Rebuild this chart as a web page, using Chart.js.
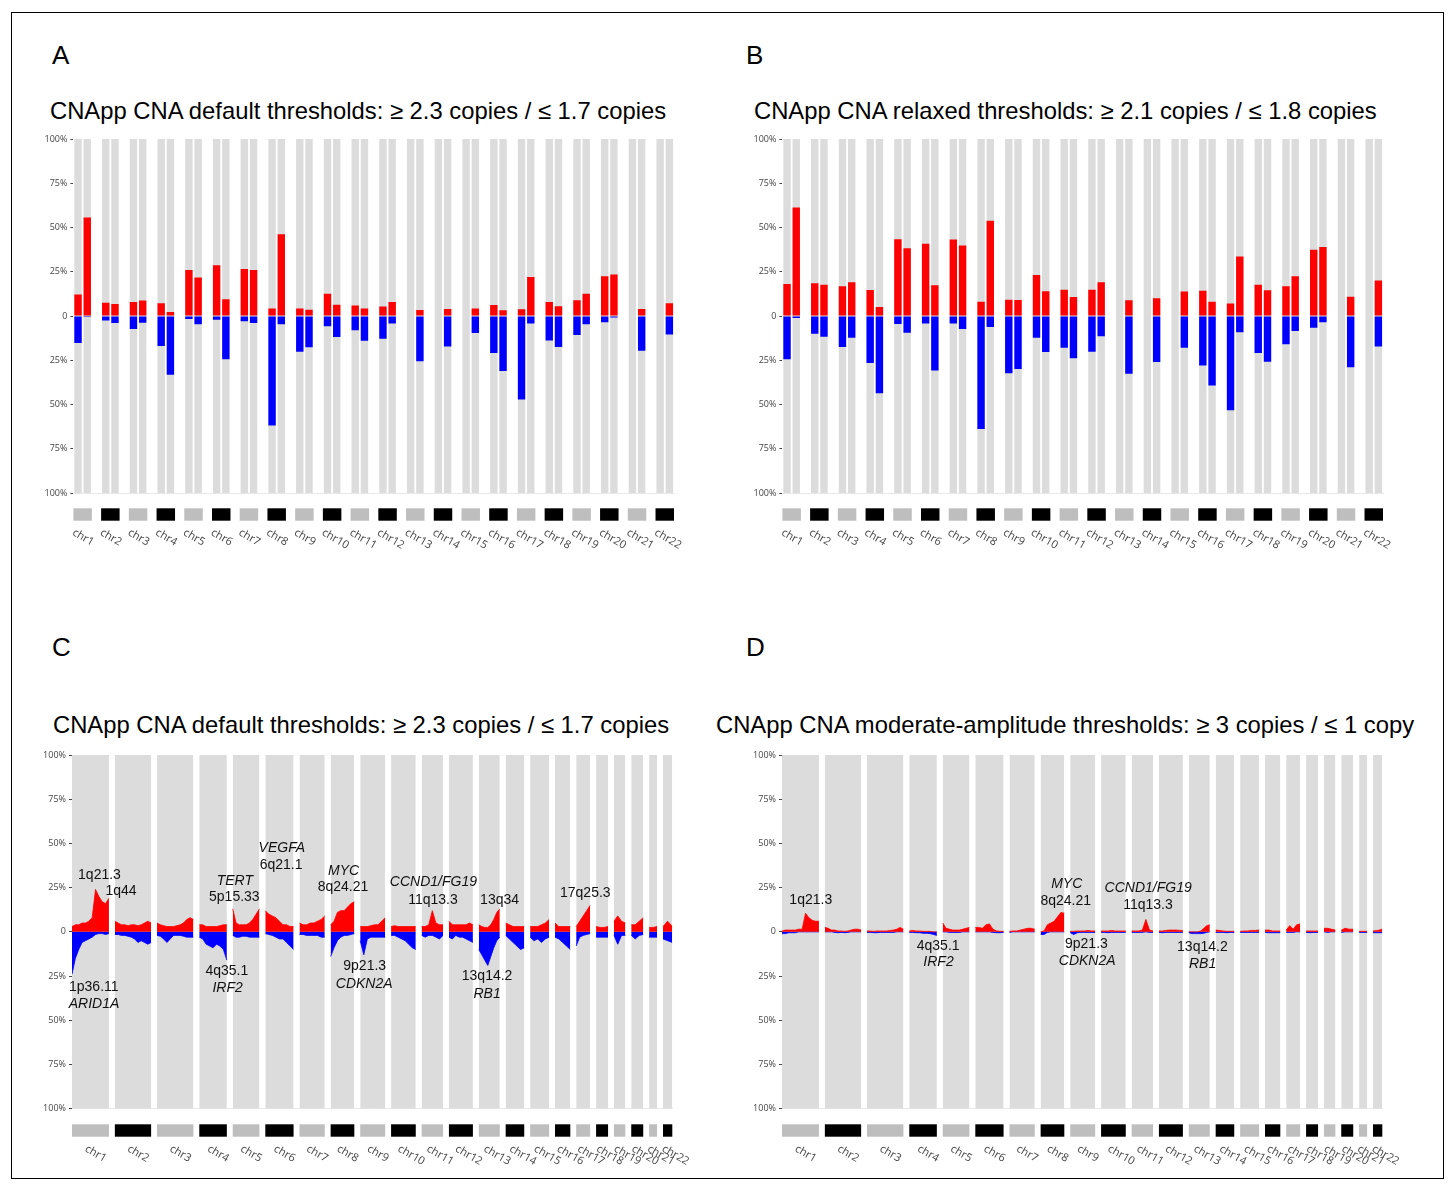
<!DOCTYPE html>
<html><head><meta charset="utf-8">
<script src="https://cdn.jsdelivr.net/npm/chart.js@4.4.1/dist/chart.umd.min.js"></script>
<style>
body{margin:0;background:#fff;width:1448px;height:1186px;position:relative;overflow:hidden;font-family:"Liberation Sans",Arial,sans-serif;}
.frame{position:absolute;left:11px;top:12px;width:1431px;height:1165px;border:1px solid #000;}
.lbl{position:absolute;font-size:26px;line-height:26px;color:#000;}
.ttl{position:absolute;font-size:23.8px;line-height:24px;color:#000;white-space:nowrap;}
canvas{position:absolute;}
</style></head><body>
<div class="frame"></div>
<div class="lbl" style="left:52px;top:42px">A</div>
<div class="lbl" style="left:746px;top:42px">B</div>
<div class="lbl" style="left:52px;top:634px">C</div>
<div class="lbl" style="left:746px;top:634px">D</div>
<div class="ttl" style="left:50px;top:99px">CNApp CNA default thresholds: ≥ 2.3 copies / ≤ 1.7 copies</div>
<div class="ttl" style="left:754px;top:99px">CNApp CNA relaxed thresholds: ≥ 2.1 copies / ≤ 1.8 copies</div>
<div class="ttl" style="left:53px;top:713px">CNApp CNA default thresholds: ≥ 2.3 copies / ≤ 1.7 copies</div>
<div class="ttl" style="left:716px;top:713px">CNApp CNA moderate-amplitude thresholds: ≥ 3 copies / ≤ 1 copy</div>
<canvas id="cA" width="700" height="430" style="left:0px;top:130px;width:700px;height:430px"></canvas>
<canvas id="cB" width="700" height="430" style="left:708.7px;top:130px;width:700px;height:430px"></canvas>
<canvas id="cC" width="700" height="430" style="left:0px;top:745px;width:700px;height:430px"></canvas>
<canvas id="cD" width="700" height="430" style="left:710px;top:745px;width:700px;height:430px"></canvas>
<script>
// ---------- data ----------
const chromosomes = ['chr1','chr2','chr3','chr4','chr5','chr6','chr7','chr8','chr9','chr10','chr11','chr12','chr13','chr14','chr15','chr16','chr17','chr18','chr19','chr20','chr21','chr22'];
const yTicks = [-100,-75,-50,-25,0,25,50,75,100];

// Panel A (% of samples, per arm)
const aGainP = [12.1,7.5,7.9,7.2,26,28.7,26.6,4.3,4.3,12.6,6,5.3,null,null,null,6.2,3.8,7.9,8.9,22.5,null,null];
const aGainQ = [55.7,6.8,8.7,2.3,21.7,9.4,26,46.2,3.6,6.4,4.3,7.9,3.4,4,4.3,3.2,22,5.5,12.6,23.4,4,7.2];
const aLossP = [15.3,2.6,7.4,17,1.7,2.1,3,61.9,20.2,5.8,8.1,12.8,null,null,null,20.9,47.2,13.8,10.8,3.6,null,null];
const aLossQ = [0.5,4,3.8,33.2,4.7,24.5,4,4.7,17.7,11.9,14,4.3,25.5,17.2,9.6,31.1,4.3,17.5,4.7,0.9,19.6,10.4];

// Panel B
const bGainP = [18.1,18.5,16.8,14.7,43.4,40.8,43.2,8.1,9.2,23.2,14.9,14.9,null,null,null,14.3,7,17.7,16.8,37.5,null,null];
const bGainQ = [61.3,17.7,19,5.1,38.3,17.4,39.8,53.8,9.1,14,10.8,19,8.9,10,13.8,8.1,33.6,14.5,22.5,39,10.9,20];
const bLossP = [24.5,10,17.5,26.6,4.5,4.3,4.2,63.8,32.3,12.3,17.9,20.2,null,null,null,27.9,53.2,20.9,16,6.6,null,null];
const bLossQ = [1.1,11.7,12.3,43.6,9.4,30.8,7.4,6.2,30,20.4,23.8,11.5,32.6,26,17.9,39.2,9.2,25.8,8.5,3.6,29,17.2];

// Panels C/D: relative chromosome display sizes and gap (genome axis units)
const chrSize = [370,363,364,276,267,283,253,237,250,247,214,240,210,186,190,153,140,120,114,120,80,93];
const chrGap = 59;

// Panel C profile (% gains / losses, evenly sampled along each chromosome)
const cGain = [
 [3,4,4,5,5,6,8,24,20,17,16,19],
 [6,5,4,4,3.5,4,4,3.5,4,5,6,5],
 [5,4,3.5,3,3,3,3.5,4,5,7,8,7],
 [4,4,3,3,3,3,3.5,4,4],
 [13,5,4,4,4,5,7,10,13],
 [12,10,9,8,6,4,4,3,3],
 [5,4,4,5,5,6,7,9],
 [4,6,11,12,12,14,16,17],
 [3,3,3,3.5,4,4,6,8],
 [3,3.5,3,3,3,3,3,3],
 [3,3,4,12,5,4,4],
 [6,4,4,4,4,4,5,4],
 [4,3,2.5,2.5,4,7,11,13],
 [5,4,3,3,3,3],
 [3,3,3,4,5,7],
 [5,3,3,3,3],
 [3,6,9,12,15],
 [3,2.5,2.5,3],
 [6,9,6,5],
 [4,4,6,8],
 [2.5,2.5,3],
 [3,6,3]
];
const cLoss = [
 [24,15,10,6,5,4,3,1.5,1,1,1.5,1],
 [1.5,1.5,2,2,2.5,3,4,6,5,6,7,6],
 [2,2.5,4,6,4,2,2,2,2.5,3,3,3],
 [3,4,7,8,9,7,8,10,16],
 [2,3,3,2.5,2.5,3,3,3,3],
 [1,1.5,2,3,4,4,6,8,10],
 [1.5,1.5,2,2,2,2,3,3],
 [14,9,5,3,2,2,1.5,1],
 [5,13,4,3,3,3,3,3],
 [2,2,3,4,5,7,9,10],
 [2,3,2,2,3,4,2],
 [3,4,2,3,3,4,5,6],
 [10,13,16,19,14,9,5,3],
 [2,4,6,8,10,9],
 [3,5,4,6,4,3],
 [3,4,6,8,10],
 [8,3,2,1.5,1],
 [3,3,3,3],
 [2,7,2,2],
 [2,4,2,1.5],
 [3,3,3],
 [4,5,6]
];
// Panel D profile
const dGain = [
 [0.5,1,1,1,1,1.5,1.5,10.5,8,6.5,6,6],
 [2.5,2,1,1,0.5,0.5,0.3,0.5,1,1.5,1.5,1],
 [0.5,0.5,0.3,0.5,0.5,0.5,0.5,0.8,1,1.5,2.5,1.5],
 [0.5,0.8,0.5,0.5,0.3,0.3,0.3,0,0],
 [5,2,1.5,1,1,1,1.5,2,2.5],
 [2.5,2.5,2,4,4.5,1.5,0.5,0.3,0.3],
 [0.3,0.5,0.5,1,1.5,2,2,1.5],
 [0,0.5,4,5,6,8.5,11,10.5],
 [0.3,0.3,0.5,0.5,0.5,0.8,0.5,0.5],
 [0.5,0.5,0.5,0.8,0.5,0.5,0.5,0.5],
 [0.5,0.5,0.5,1,7,1,0.5],
 [0.5,0.5,0.8,1,1,1,0.8,0.8],
 [0,0,0,0,0.5,2,3.5,4],
 [1,0.8,0.5,0.3,0.3,0.3],
 [0.3,0.5,0.5,0.8,0.8,1],
 [1,1,0.5,0.5,0.5],
 [1,3.5,1.5,4,4.5],
 [0.5,0.5,0.5,0.5],
 [2,2,1.5,1],
 [1,2,1.5,1.5],
 [0.3,0.3,0.3],
 [0.5,0.8,1.5]
];
const dLoss = [
 [1,1,0.5,0.5,0.5,0,0,0,0,0,0,0],
 [0,0,0,0.3,0.5,0.3,0.5,0.3,0,0,0,0],
 [0.3,0.3,0.5,0.5,0.3,0.3,0.3,0.3,0.3,0,0,0],
 [0.3,0.3,0.5,0.5,0.8,0.8,1,1.5,2],
 [0,0,0.3,0.3,0.3,0.3,0,0,0],
 [0,0,0,0,0,0.3,0.5,0.5,0.3],
 [0.3,0,0,0,0,0,0,0],
 [1.5,1.5,0.3,0,0,0,0,0],
 [0.5,1.5,0.5,0.3,0.3,0.3,0.3,0.3],
 [0.3,0.3,0.5,0.3,0.3,0.3,0.3,0.3],
 [0.3,0.3,0.3,0.3,0,0.3,0.3],
 [0.3,0.5,0.3,0.3,0.3,0.3,0.3,0.3],
 [0.5,1,1,1,1,0.8,0.3,0],
 [0.3,0.3,0.3,0.5,0.3,0.3],
 [0.3,0.3,0.3,0.3,0.3,0.3],
 [0.3,0.5,0.5,0.5,0.5],
 [0.3,0.3,0.3,0,0],
 [0.3,0.5,0.3,0.3],
 [0,0.3,0,0],
 [0.3,0,0,0],
 [0.3,0.3,0.3],
 [0.5,0.5,0.5]
];

// Annotations (genome axis units, % value)
const cNotes = [
 {t:'1q21.3',x:275,y:31.8},{t:'1q44',x:490,y:22.8},{t:'1p36.11',x:218,y:-31.2},{t:'ARID1A',x:220,y:-40.8,i:1},
 {t:'TERT',x:1630,y:28.8,i:1},{t:'5p15.33',x:1625,y:19.4},{t:'VEGFA',x:2100,y:47.6,i:1},{t:'6q21.1',x:2093,y:37.8},
 {t:'MYC',x:2718,y:34.5,i:1},{t:'8q24.21',x:2713,y:25},{t:'4q35.1',x:1550,y:-22.4},{t:'IRF2',x:1558,y:-31.8,i:1},
 {t:'9p21.3',x:2930,y:-19.6},{t:'CDKN2A',x:2925,y:-29.5,i:1},{t:'CCND1/FG19',x:3618,y:28.4,i:1},{t:'11q13.3',x:3613,y:18.1},
 {t:'13q34',x:4280,y:18.1},{t:'13q14.2',x:4155,y:-25.3},{t:'RB1',x:4155,y:-35,i:1},{t:'17q25.3',x:5138,y:21.8}
];
const dNotes = [
 {t:'1q21.3',x:288,y:18.1},{t:'4q35.1',x:1563,y:-8.3},{t:'IRF2',x:1567,y:-17.3,i:1},
 {t:'MYC',x:2850,y:27.1,i:1},{t:'8q24.21',x:2840,y:17.1},{t:'9p21.3',x:3047,y:-6.8},{t:'CDKN2A',x:3055,y:-16.4,i:1},
 {t:'CCND1/FG19',x:3665,y:25,i:1},{t:'11q13.3',x:3663,y:15.3},{t:'13q14.2',x:4208,y:-8.6},{t:'RB1',x:4210,y:-18.1,i:1}
];

// ---------- helpers ----------
const RED='#ff0000', BLUE='#0000ff', GREY='#dcdcdc', STRIP_GREY='#bebebe';
const tickFont = {family:'"Open Sans", "DejaVu Sans", sans-serif', size:9};
const chrFont = '11px "Open Sans", "DejaVu Sans", sans-serif';

function yScale(width){
  return {
    min:-100, max:100,
    afterBuildTicks(s){ s.ticks = yTicks.map(v=>({value:v})); },
    ticks:{callback:v=> v===0 ? '0' : Math.abs(v)+'%', font:tickFont, color:'#444', padding:3},
    grid:{drawOnChartArea:false, drawTicks:true, tickLength:3, color:'#444'},
    border:{display:false},
    afterFit(s){ s.width = width; }
  };
}

function drawChrLabel(ctx, text, x, y){
  ctx.save();
  ctx.translate(x, y);
  ctx.rotate(Math.PI/6);
  ctx.font = chrFont;
  ctx.fillStyle = '#444';
  ctx.textAlign = 'left';
  ctx.textBaseline = 'top';
  ctx.fillText(text, 0, 0);
  ctx.restore();
}

const armStripPlugin = {
  id:'armStrip',
  afterDraw(chart){
    const ctx = chart.ctx, x = chart.scales.x, b = chart.chartArea.bottom;
    const cw = x.getPixelForValue(1) - x.getPixelForValue(0);
    chromosomes.forEach((name,c)=>{
      const pc = x.getPixelForValue(3*c), qc = x.getPixelForValue(3*c+1);
      ctx.fillStyle = c%2===0 ? STRIP_GREY : '#000';
      ctx.fillRect(pc - cw/2, b+15.3, (qc + cw/2) - (pc - cw/2), 12.4);
      drawChrLabel(ctx, name, pc-2, b+34);
    });
  }
};

function chrStarts(){
  const s=[]; let acc=0;
  chrSize.forEach((w,i)=>{ s.push(acc); acc += w + chrGap; });
  return s;
}
const starts = chrStarts();
const genomeEnd = starts[starts.length-1] + chrSize[chrSize.length-1];

const genomeStripPlugin = {
  id:'genomeStrip',
  afterDraw(chart){
    const ctx = chart.ctx, x = chart.scales.x, y = chart.scales.y, b = chart.chartArea.bottom;
    chromosomes.forEach((name,c)=>{
      const l = x.getPixelForValue(starts[c]), r = x.getPixelForValue(starts[c]+chrSize[c]);
      ctx.fillStyle = c%2===0 ? STRIP_GREY : '#000';
      ctx.fillRect(l, b+15.6, r-l, 12.4);
      drawChrLabel(ctx, name, (l+r)/2-2, b+34.5);
    });
    const notes = chart.options.plugins.genomeStrip.notes;
    ctx.fillStyle = '#111';
    ctx.textAlign = 'center';
    ctx.textBaseline = 'middle';
    notes.forEach(n=>{
      ctx.font = (n.i ? 'italic ' : '') + '14px "Liberation Sans", Arial, sans-serif';
      ctx.fillText(n.t, x.getPixelForValue(n.x), y.getPixelForValue(n.y));
    });
  }
};

function armChart(id, gp, gq, lp, lq){
  const labels=[], grey=[], red=[], blue=[];
  chromosomes.forEach((name,c)=>{
    labels.push(name+'p', name+'q');
    grey.push([-100,100],[-100,100]);
    red.push(gp[c], gq[c]);
    blue.push(lp[c]==null?null:-lp[c], lq[c]==null?null:-lq[c]);
    if(c < chromosomes.length-1){ labels.push(''); grey.push(null); red.push(null); blue.push(null); }
  });
  const common = {grouped:false, barPercentage:0.8, categoryPercentage:1, borderWidth:0};
  new Chart(document.getElementById(id), {
    type:'bar',
    data:{labels, datasets:[
      Object.assign({data:red, backgroundColor:RED, order:1}, common),
      Object.assign({data:blue, backgroundColor:BLUE, order:1}, common),
      Object.assign({data:grey, backgroundColor:GREY, order:2}, common)
    ]},
    options:{
      responsive:false, animation:false, devicePixelRatio:1,
      layout:{padding:{left:0, top:9, right:26, bottom:67}, autoPadding:false},
      plugins:{legend:{display:false}, tooltip:{enabled:false}},
      scales:{
        x:{offset:true, ticks:{display:false}, grid:{display:false}, border:{display:true, color:'#e8e8e8'}, afterFit(s){ s.height=0; }},
        y:yScale(73.4)
      }
    },
    plugins:[armStripPlugin]
  });
}

function genomeChart(id, gain, loss, notes){
  const ds=[];
  chromosomes.forEach((name,c)=>{
    const s = starts[c], w = chrSize[c];
    const g = gain[c], l = loss[c];
    ds.push({data:g.map((v,i)=>({x:s + w*i/(g.length-1), y:v})), borderColor:RED, backgroundColor:RED, borderWidth:0.8, fill:'origin', pointRadius:0, tension:0, order:1});
    ds.push({data:l.map((v,i)=>({x:s + w*i/(l.length-1), y:-v})), borderColor:BLUE, backgroundColor:BLUE, borderWidth:0.8, fill:'origin', pointRadius:0, tension:0, order:1});
    ds.push({data:[{x:s,y:100},{x:s+w,y:100}], borderWidth:0, backgroundColor:GREY, fill:{value:-100}, pointRadius:0, order:2});
  });
  new Chart(document.getElementById(id), {
    type:'line',
    data:{datasets:ds},
    options:{
      responsive:false, animation:false, devicePixelRatio:1,
      layout:{padding:{left:0, top:10, right:27.7, bottom:66.3}, autoPadding:false},
      plugins:{legend:{display:false}, tooltip:{enabled:false}, genomeStrip:{notes}},
      scales:{
        x:{type:'linear', min:0, max:genomeEnd, ticks:{display:false}, grid:{display:false}, border:{display:true, color:'#e8e8e8'}, afterFit(s){ s.height=0; }},
        y:yScale(72)
      }
    },
    plugins:[genomeStripPlugin]
  });
}

armChart('cA', aGainP, aGainQ, aLossP, aLossQ);
armChart('cB', bGainP, bGainQ, bLossP, bLossQ);
genomeChart('cC', cGain, cLoss, cNotes);
genomeChart('cD', dGain, dLoss, dNotes);
</script>
</body></html>
